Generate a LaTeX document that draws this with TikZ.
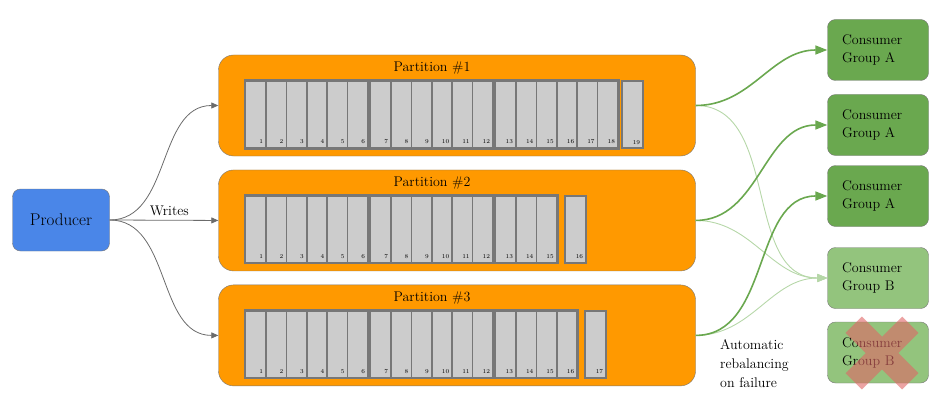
\documentclass[tikz,border=0pt]{standalone}
\usetikzlibrary{arrows.meta}
\definecolor{prodblue}{HTML}{4A86E8}
\definecolor{partorange}{HTML}{FF9900}
\definecolor{groupa}{HTML}{6AA84F}
\definecolor{groupb}{HTML}{93C47D}
\definecolor{faintgreen}{HTML}{B6D7A8}
\definecolor{cellgray}{HTML}{CCCCCC}
\definecolor{edgegray}{HTML}{777777}
\definecolor{crossred}{HTML}{E06666}
\tikzstyle{producer} = [draw=edgegray, fill=prodblue, rounded corners=8pt, minimum width=97pt, minimum height=62pt, font=\fontsize{17}{19}\selectfont]
\tikzstyle{partition} = [draw=edgegray, fill=partorange, rounded corners=15pt, minimum width=477pt, minimum height=101pt]
\tikzstyle{consumerA} = [draw=edgegray, fill=groupa, rounded corners=8pt, minimum width=101pt, minimum height=61pt, text width=72pt, align=left, font=\fontsize{14}{18}\selectfont]
\tikzstyle{consumerB} = [consumerA, fill=groupb]
\tikzstyle{segment} = [draw=edgegray, fill=cellgray, line width=1.5pt, minimum width=20.4pt, minimum height=66.5pt, inner sep=0pt, anchor=north west]
\tikzstyle{cellnum} = [inner sep=0pt, anchor=base east, font=\fontsize{6}{7}\selectfont]
\tikzstyle{groupbox} = [draw=edgegray, line width=2pt]

\begin{document}
\begin{tikzpicture}[x=1pt, y=-1pt]
            \useasboundingbox (0,0) rectangle (936,409);
            % Defining nodes
            \node[producer] (Producer) at (61,220) {Producer};
            \node[partition] (part1) at (457,105.5) {};
            \node[partition, below of=part1, yshift=-86.5pt] (part2) {};
            \node[partition, below of=part2, yshift=-86.5pt] (part3) {};
            \foreach \p in {1,2,3}
                \node[anchor=base, font=\fontsize{14}{16}\selectfont] (title\p) at ([xshift=-25pt, yshift=-17pt]part\p.north) {Partition \#\p};

            % Segments of each partition
            \foreach \p/\n in {1/18, 2/15, 3/16} {
                \foreach \i in {1,...,\n} {
                    \pgfmathtruncatemacro{\g}{(\i-1)/6}
                    \pgfmathsetmacro{\dx}{26.5+125*\g+20.4*(\i-1-6*\g)}
                    \node[segment] (c\p-\i) at ([xshift=\dx pt, yshift=-25.7pt]part\p.north west) {};
                    \node[cellnum] (n\p-\i) at ([xshift=-3.5pt, yshift=5pt]c\p-\i.south east) {\i};
                }
            }
            \foreach \p/\a/\b in {1/1/6, 1/7/12, 1/13/18, 2/1/6, 2/7/12, 2/13/15, 3/1/6, 3/7/12, 3/13/16}
                \draw[groupbox] (c\p-\a.north west) rectangle (c\p-\b.south east);
            \foreach \p/\i/\dx in {1/19/402.5, 2/16/345.5, 3/17/365.5} {
                \node[segment, line width=2pt, minimum width=21pt] (c\p-\i) at ([xshift=\dx pt, yshift=-25.7pt]part\p.north west) {};
                \node[cellnum] (n\p-\i) at ([xshift=-3.5pt, yshift=5pt]c\p-\i.south east) {\i};
            }

            \node[consumerA] (A1) at (878,50) {Consumer\\Group A};
            \node[consumerA] (A2) at (878,125) {Consumer\\Group A};
            \node[consumerA] (A3) at (878,196) {Consumer\\Group A};
            \node[consumerB] (B1) at (878,278) {Consumer\\Group B};
            \node[consumerB] (B2) at (878,352.5) {Consumer\\Group B};
            \node[anchor=north west, inner sep=0pt, align=left, font=\fontsize{14}{19}\selectfont] (rebalance) at (720,339) {Automatic\\rebalancing\\on failure};

            % Drawing diagram
            \draw[edgegray!90!black, line width=0.8pt, -{Triangle[length=7pt, width=6pt]}] (Producer.east) to[out=0, in=180] (part1.west);
            \draw[edgegray!90!black, line width=0.8pt, -{Triangle[length=7pt, width=6pt]}] (Producer.east) -- node[above, pos=0.55, yshift=1pt, text=black, font=\fontsize{14}{16}\selectfont] (writes) {Writes} (part2.west);
            \draw[edgegray!90!black, line width=0.8pt, -{Triangle[length=7pt, width=6pt]}] (Producer.east) to[out=0, in=180] (part3.west);
            \foreach \p in {1,2,3}
                \draw[faintgreen, line width=0.9pt, -{Triangle[length=10pt, width=8pt]}] (part\p.east) to[out=0, in=180] (B1.west);
            \draw[groupa, line width=1.6pt, -{Triangle[length=12pt, width=9pt]}] (part1.east) to[out=0, in=180] (A1.west);
            \draw[groupa, line width=1.6pt, -{Triangle[length=12pt, width=9pt]}] (part2.east) to[out=0, in=180] (A2.west);
            \draw[groupa, line width=1.6pt, -{Triangle[length=12pt, width=9pt]}] (part3.east) to[out=0, in=180] (A3.west);

            % Failed consumer
            \begin{scope}[shift={(882,353)}, rotate=45]
                \fill[crossred, opacity=0.6] (-40,-11.5) -- (-11.5,-11.5) -- (-11.5,-40) -- (11.5,-40) -- (11.5,-11.5) -- (40,-11.5) -- (40,11.5) -- (11.5,11.5) -- (11.5,40) -- (-11.5,40) -- (-11.5,11.5) -- (-40,11.5) -- cycle;
            \end{scope}
        \end{tikzpicture}
\end{document}
